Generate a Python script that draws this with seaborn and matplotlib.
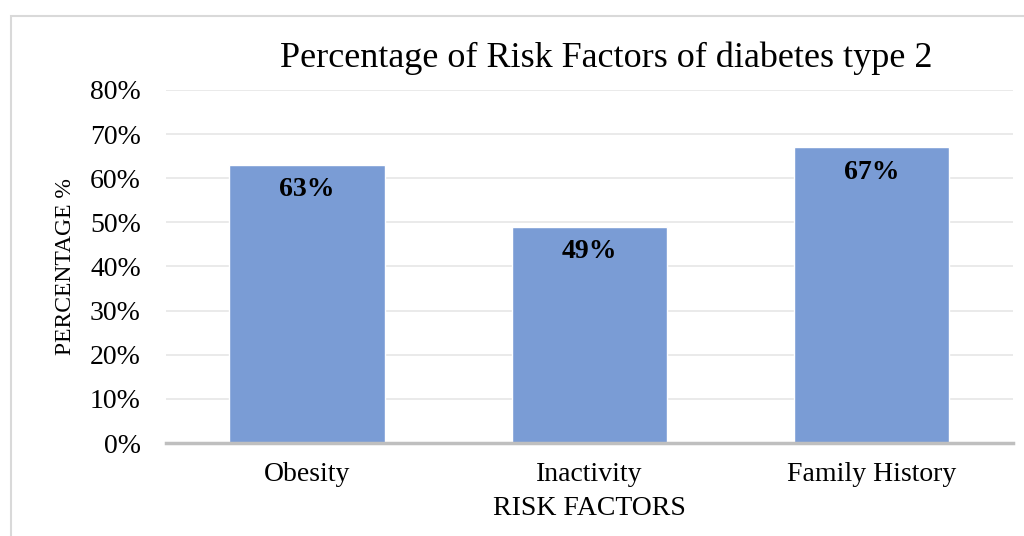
import matplotlib
matplotlib.use("Agg")
import matplotlib.pyplot as plt
import seaborn as sns
import pandas as pd
from matplotlib.patches import Rectangle
from matplotlib.ticker import PercentFormatter

factors = ["Obesity", "Inactivity", "Family History"]
percent = [63, 49, 67]
bar_labels = ["63%", "49%", "67%"]
yticks = [0, 10, 20, 30, 40, 50, 60, 70, 80]

sns.set_style("white")
plt.rcParams['font.family'] = ['Liberation Serif', 'DejaVu Serif']
plt.rcParams['text.color'] = 'black'
plt.rcParams['axes.labelcolor'] = 'black'
plt.rcParams['xtick.color'] = 'black'
plt.rcParams['ytick.color'] = 'black'

df = pd.DataFrame({"factor": factors, "pct": percent})

fig = plt.figure(figsize=(10.24, 5.36), dpi=100)
ax = fig.add_axes([0.162, 0.1735, 0.827, 0.6586])

sns.barplot(data=df, x="factor", y="pct", color="#7A9CD5", width=0.55,
            saturation=1, ax=ax)

ax.set_ylim(0, 80)
ax.set_yticks(yticks)
ax.yaxis.set_major_formatter(PercentFormatter(decimals=0))
ax.grid(axis="y", color="#E6E6E6", linewidth=1.2)
ax.set_axisbelow(True)
for s in ["top", "right", "left"]:
    ax.spines[s].set_visible(False)
ax.spines["bottom"].set_color("#BFBFBF")
ax.spines["bottom"].set_linewidth(2.5)
ax.tick_params(axis="both", length=0)
ax.tick_params(axis="y", labelsize=20, pad=18)
ax.tick_params(axis="x", labelsize=20, pad=14)

for i, (v, lab) in enumerate(zip(percent, bar_labels)):
    ax.text(i, v - 2.8, lab, ha="center", va="top", fontsize=20, fontweight="bold")

ax.set_xlabel("RISK FACTORS", fontsize=20, labelpad=6)
ax.set_ylabel("PERCENTAGE %", fontsize=17, labelpad=10)
fig.text(0.592, 0.892, "Percentage of Risk Factors of diabetes type 2",
         ha="center", va="center", fontsize=26)

fig.patches.append(Rectangle((11 / 1024, -0.01), 1.0, 1 - 16 / 536 + 0.01,
                             transform=fig.transFigure, fill=False,
                             edgecolor="#D9D9D9", linewidth=1.5))

fig.savefig("out.png", dpi=100)
